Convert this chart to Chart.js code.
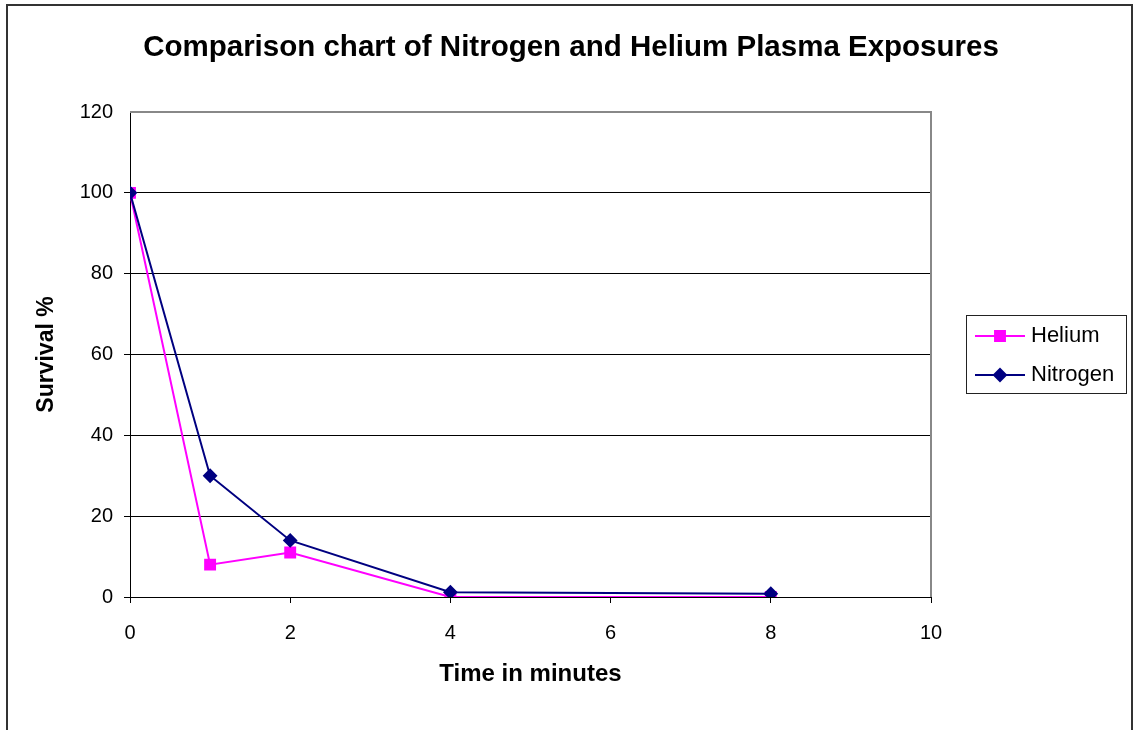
<!DOCTYPE html>
<html>
<head>
<meta charset="utf-8">
<title>Nitrogen and Helium Plasma Exposures</title>
<script src="https://cdn.jsdelivr.net/npm/chart.js@4.4.0/dist/chart.umd.min.js"></script>
<style>
  body { margin: 0; background: #fff; }
  #wrap { width: 1135px; height: 730px; }
</style>
</head>
<body>
<div id="wrap"><canvas id="plasmaChart" width="1135" height="730"></canvas></div>
<script>
// data
var timeMinutes = [0, 1, 2, 4, 8];
var heliumSurvival = [100, 8, 11, 0, 0];
var nitrogenSurvival = [100, 30, 14, 1.2, 0.8];
var seriesNames = ['Helium', 'Nitrogen'];
var xTickValues = [0, 2, 4, 6, 8, 10];
var yTickValues = [0, 20, 40, 60, 80, 100, 120];
var chartTitle = 'Comparison chart of Nitrogen and Helium Plasma Exposures';

var FONT = '"Liberation Sans", Arial, sans-serif';

function toPoints(xs, ys) {
    return xs.map(function (x, i) { return { x: x, y: ys[i] }; });
}

// frame, title, plot border and the legend box
var framePlugin = {
    id: 'frame',
    beforeDraw: function (chart) {
        var ctx = chart.ctx;
        ctx.save();
        ctx.fillStyle = '#fff';
        ctx.fillRect(0, 0, chart.width, chart.height);
        // title centred on the whole frame, not just the plot
        ctx.fillStyle = '#000';
        ctx.font = 'bold 29.5px ' + FONT;
        ctx.textAlign = 'center';
        ctx.textBaseline = 'alphabetic';
        ctx.fillText(chartTitle, 571, 56);
        ctx.restore();
    },
    afterDatasetsDraw: function (chart) {
        var ctx = chart.ctx;
        var a = chart.chartArea;
        ctx.save();
        // plot area border, top + right in gray
        ctx.strokeStyle = '#888';
        ctx.lineWidth = 2;
        ctx.beginPath();
        ctx.moveTo(a.left, Math.round(a.top));
        ctx.lineTo(Math.round(a.right), Math.round(a.top));
        ctx.lineTo(Math.round(a.right), a.bottom);
        ctx.stroke();

        // outer border
        ctx.strokeStyle = '#333';
        ctx.lineWidth = 2;
        ctx.beginPath();
        ctx.moveTo(7, chart.height + 2);
        ctx.lineTo(7, 5);
        ctx.lineTo(1132, 5);
        ctx.lineTo(1132, chart.height + 2);
        ctx.stroke();

        // legend
        ctx.strokeStyle = '#222';
        ctx.lineWidth = 1;
        ctx.strokeRect(966.5, 315.5, 160, 78);
        var rows = [336, 375];
        chart.data.datasets.forEach(function (ds, i) {
            var y = rows[i];
            ctx.strokeStyle = ds.borderColor;
            ctx.lineWidth = 2;
            ctx.beginPath();
            ctx.moveTo(975, y);
            ctx.lineTo(1025, y);
            ctx.stroke();
            Chart.helpers.drawPoint(ctx, {
                pointStyle: ds.pointStyle,
                radius: ds.pointRadius,
                borderWidth: 1
            }, 1000, y);
            ctx.fillStyle = ds.borderColor;
            ctx.fill();
            ctx.fillStyle = '#000';
            ctx.font = '22px ' + FONT;
            ctx.textBaseline = 'middle';
            ctx.textAlign = 'left';
            ctx.fillText(ds.label, 1031, y);
        });
        ctx.restore();
    }
};

var ctx = document.getElementById('plasmaChart').getContext('2d');

var chart = new Chart(ctx, {
    type: 'line',
    data: {
        datasets: [
            {
                label: seriesNames[0],
                data: toPoints(timeMinutes, heliumSurvival),
                borderColor: '#FF00FF',
                backgroundColor: '#FF00FF',
                pointBackgroundColor: '#FF00FF',
                pointBorderColor: '#FF00FF',
                pointStyle: 'rect',
                pointRadius: 7,
                borderWidth: 2,
                tension: 0,
                order: 1
            },
            {
                label: seriesNames[1],
                data: toPoints(timeMinutes, nitrogenSurvival),
                borderColor: '#000080',
                backgroundColor: '#000080',
                pointBackgroundColor: '#000080',
                pointBorderColor: '#000080',
                pointStyle: 'rectRot',
                pointRadius: 6,
                borderWidth: 2,
                tension: 0,
                order: 0
            }
        ]
    },
    options: {
        responsive: false,
        animation: false,
        layout: { padding: { left: 0, right: 204, top: 112, bottom: 0 } },
        plugins: {
            legend: { display: false },
            tooltip: { enabled: false },
            title: { display: false }
        },
        scales: {
            x: {
                type: 'linear',
                min: 0,
                max: 10,
                afterFit: function (scale) { scale.height = 133; },
                afterBuildTicks: function (scale) {
                    scale.ticks = xTickValues.map(function (v) { return { value: v }; });
                },
                grid: {
                    drawOnChartArea: false,
                    drawTicks: true,
                    tickLength: 6,
                    color: '#000'
                },
                border: { color: '#000', width: 1 },
                ticks: {
                    color: '#000',
                    padding: 18,
                    maxRotation: 0,
                    font: { family: FONT, size: 20 }
                },
                title: {
                    display: true,
                    text: 'Time in minutes',
                    color: '#000',
                    font: { family: FONT, size: 24, weight: 'bold', lineHeight: 1.2 },
                    padding: { top: 0, bottom: 41 }
                }
            },
            y: {
                min: 0,
                max: 120,
                afterFit: function (scale) { scale.width = 130; },
                afterBuildTicks: function (scale) {
                    scale.ticks = yTickValues.map(function (v) { return { value: v }; });
                },
                grid: {
                    tickLength: 6,
                    color: function (c) {
                        return c.tick && c.tick.value === 120 ? 'rgba(0,0,0,0)' : '#000';
                    }
                },
                border: { color: '#000', width: 1 },
                ticks: {
                    color: '#000',
                    padding: 11,
                    font: { family: FONT, size: 20 }
                },
                title: {
                    display: true,
                    text: 'Survival %',
                    color: '#000',
                    font: { family: FONT, size: 23, weight: 'bold', lineHeight: 1.2 },
                    padding: { top: 33, bottom: 0 }
                }
            }
        }
    },
    plugins: [framePlugin]
});
</script>
</body>
</html>
